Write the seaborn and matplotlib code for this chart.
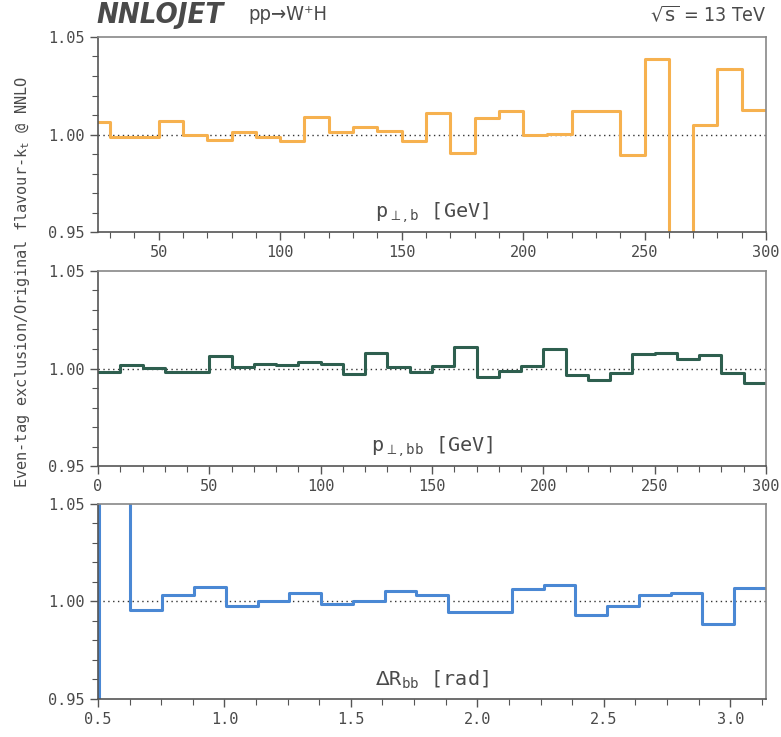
import matplotlib
matplotlib.use('Agg')
import matplotlib.pyplot as plt
from matplotlib.ticker import AutoMinorLocator, MultipleLocator
import seaborn as sns
import pandas as pd

# ratio values (one value per bin)
ptb_edges = [20, 30, 40, 50, 60, 70, 80, 90, 100, 110, 120, 130, 140, 150, 160,
             170, 180, 190, 200, 210, 220, 230, 240, 250, 260, 270, 280, 290, 300]
ptb_ratio = [1.0064, 0.9988, 0.9985, 1.0070, 1.0000, 0.9971, 1.0013, 0.9985, 0.9969,
             1.0088, 1.0012, 1.0039, 1.0018, 0.9966, 1.0110, 0.9906, 1.0087, 1.0123,
             0.9995, 1.0005, 1.0123, 1.0123, 0.9893, 1.0385, 0.9000, 1.0048, 1.0334,
             1.0128]

ptbb_edges = [0, 10, 20, 30, 40, 50, 60, 70, 80, 90, 100, 110, 120, 130, 140, 150,
              160, 170, 180, 190, 200, 210, 220, 230, 240, 250, 260, 270, 280, 290, 300]
ptbb_ratio = [0.9983, 1.0020, 1.0001, 0.9981, 0.9981, 1.0063, 1.0008, 1.0024, 1.0019,
              1.0031, 1.0022, 0.9974, 1.0079, 1.0008, 0.9981, 1.0015, 1.0108, 0.9957,
              0.9986, 1.0012, 1.0098, 0.9966, 0.9940, 0.9979, 1.0072, 1.0077, 1.0048,
              1.0067, 0.9977, 0.9926]

drbb_edges = [0.377, 0.503, 0.628, 0.754, 0.880, 1.005, 1.131, 1.257, 1.382, 1.508,
              1.634, 1.759, 1.885, 2.011, 2.136, 2.262, 2.388, 2.513, 2.639, 2.765,
              2.890, 3.016, 3.1416]
drbb_ratio = [0.9000, 1.1000, 0.9954, 1.0031, 1.0072, 0.9976, 1.0002, 1.0043, 0.9988,
              1.0004, 1.0053, 1.0034, 0.9945, 0.9946, 1.0062, 1.0084, 0.9931, 0.9976,
              1.0031, 1.0045, 0.9887, 1.0070]

panels = [
    (ptb_edges, ptb_ratio, '#f6b14f', (25, 300), r'p$_{\perp,\mathtt{b}}$ [GeV]', 50, 5),
    (ptbb_edges, ptbb_ratio, '#2e5f4f', (0, 300), r'p$_{\perp,\mathtt{bb}}$ [GeV]', 50, 5),
    (drbb_edges, drbb_ratio, '#4a88d4', (0.5, 3.1416), r'$\Delta$R$_{\mathtt{bb}}$ [rad]', 0.5, 4),
]

sns.set_style('white')
plt.rcParams['font.family'] = ['DejaVu Sans Mono', 'DejaVu Sans']
grey = '#4a4a4a'

fig = plt.figure(figsize=(7.81, 7.37), dpi=100)
bottoms = [0.6852, 0.3677, 0.0516]

for (edges, ratio, color, xlim, label, major, nminor), b in zip(panels, bottoms):
    ax = fig.add_axes([0.1255, b, 0.8553, 0.2646])
    df = pd.DataFrame({'x': edges, 'y': ratio + [ratio[-1]]})
    sns.lineplot(data=df, x='x', y='y', ax=ax, color=color, lw=2.2,
                 drawstyle='steps-post', estimator=None)
    ax.axhline(1.0, color='#333333', lw=1, ls=(0, (1, 2.5)), zorder=1)
    ax.set_xlim(*xlim)
    ax.set_ylim(0.95, 1.05)
    ax.set_xlabel('')
    ax.set_ylabel('')
    ax.xaxis.set_major_locator(MultipleLocator(major))
    ax.xaxis.set_minor_locator(AutoMinorLocator(nminor))
    ax.yaxis.set_major_locator(MultipleLocator(0.05))
    ax.yaxis.set_minor_locator(AutoMinorLocator(5))
    ax.yaxis.set_major_formatter(plt.FormatStrFormatter('%.2f'))
    if major < 1:
        ax.xaxis.set_major_formatter(plt.FormatStrFormatter('%.1f'))
    ax.tick_params(which='both', direction='out', bottom=True, left=True,
                   color='#555555', labelcolor=grey, labelsize=11)
    ax.tick_params(which='major', length=6, width=1)
    ax.tick_params(which='minor', length=4.5, width=0.8)
    for side in ['left', 'bottom']:
        ax.spines[side].set_color('#555555')
        ax.spines[side].set_linewidth(1.2)
    for side in ['top', 'right']:
        ax.spines[side].set_color('#888888')
        ax.spines[side].set_linewidth(1.2)
    ax.text(0.5, 0.10, label, transform=ax.transAxes, ha='center', va='center',
            fontsize=14.5, color=grey)

fig.text(0.124, 0.980, 'NNLOJET', ha='left', va='center', fontsize=21,
         fontweight='bold', fontstyle='italic', fontstretch='condensed',
         family='DejaVu Sans', color=grey)
fig.text(0.369, 0.980, 'pp→W⁺H', ha='center', va='center', fontsize=14.5,
         family='DejaVu Sans', fontstretch='condensed', color=grey)
fig.text(0.981, 0.980, r'$\sqrt{\mathrm{s}}$ = 13 TeV', ha='right', va='center',
         fontsize=14, family='DejaVu Sans', fontstretch='condensed', color=grey)
fig.text(0.029, 0.617, r'Even-tag exclusion/Original flavour-k$_{\mathtt{t}}$ @ NNLO',
         rotation=90, ha='center', va='center', fontsize=11, color=grey)

fig.savefig('out.png', dpi=100)
